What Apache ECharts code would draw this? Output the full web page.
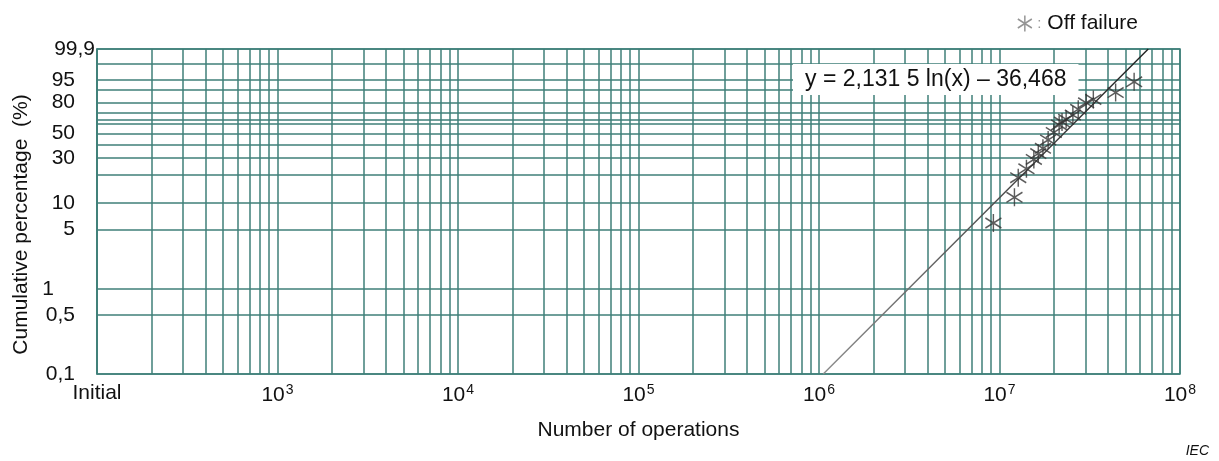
<!DOCTYPE html>
<html>
<head>
<meta charset="utf-8">
<script src="https://cdn.jsdelivr.net/npm/echarts@6/dist/echarts.min.js"></script>
<style>
html,body{margin:0;padding:0;background:#ffffff;}
#chart{width:1219px;height:461px;}
</style>
</head>
<body>
<div id="chart"></div>
<script>
// ---------------- data ----------------
const xDecadeExponents = [2, 3, 4, 5, 6, 7, 8];           // 10^2 ... 10^8
const xFirstLabel = 'Initial';
const xMinorMultipliers = [1, 2, 3, 4, 5, 6, 7, 8, 9];
const yGridPercents = [0.1, 0.5, 1, 5, 10, 20, 30, 40, 50, 60, 70, 80, 90, 95, 99, 99.9];
const yLabelPercents = [0.1, 0.5, 1, 5, 10, 30, 50, 80, 95, 99.9];

const operations = [9.25e6, 1.21e7, 1.27e7, 1.41e7, 1.55e7, 1.64e7, 1.74e7, 1.86e7, 2.0e7,
                    2.14e7, 2.22e7, 2.34e7, 2.55e7, 2.73e7, 3.02e7, 3.31e7, 4.40e7, 5.57e7];
const cumulativePercent = [5.9, 11.5, 18.8, 23.3, 29.0, 33.1, 37.1, 44.1, 51.0,
                           58.3, 61.2, 64.0, 68.2, 73.8, 79.8, 82.7, 87.9, 94.1];

const fitOperations = [1.056e6, 6.67e7];
const fitPercent = [0.1, 99.9];
const equationText = 'y = 2,131 5 ln(x) \u2013 36,468';
const seriesName = 'Off failure';

// ---------------- scale transforms (Weibull paper) ----------------
const weib = p => Math.log(-Math.log(1 - p / 100));
const lg = v => Math.log10(v);

const xGridValues = [];
xDecadeExponents.forEach(e => {
  if (e === xDecadeExponents[xDecadeExponents.length - 1]) { xGridValues.push(e); return; }
  xMinorMultipliers.forEach(m => xGridValues.push(lg(m * Math.pow(10, e))));
});
const yGridValues = yGridPercents.map(weib);
const yLabelValues = yLabelPercents.map(weib);

const scatterData = operations.map((o, i) => [lg(o), weib(cumulativePercent[i])]);
const fitData = fitOperations.map((o, i) => [lg(o), weib(fitPercent[i])]);

const GRID = '#3f7f79';
const FONT = 'Liberation Sans, Arial, sans-serif';
const FS = 21;
const STAR = 'path://M7,0L7,16M0,3.5L14,12.5M14,3.5L0,12.5';

const chart = echarts.init(document.getElementById('chart'), null, {renderer: 'canvas'});
chart.setOption({
  animation: false,
  backgroundColor: '#ffffff',
  textStyle: {fontFamily: FONT},
  grid: {left: 97, right: 39, top: 49, bottom: 87, show: true, borderColor: GRID, borderWidth: 1.5, backgroundColor: 'transparent'},
  legend: {
    right: 76, top: 8, itemWidth: 15, itemHeight: 16,
    itemStyle: {color: 'transparent', borderColor: '#7a7a7a', borderWidth: 1.5},
    formatter: n => '{c|:} ' + n,
    textStyle: {fontSize: FS, color: '#111', fontFamily: FONT, rich: {c: {fontSize: 15, color: '#999', fontFamily: FONT}}},
    data: [{name: seriesName, icon: STAR}]
  },
  xAxis: {
    type: 'value', min: xDecadeExponents[0], max: xDecadeExponents[xDecadeExponents.length - 1],
    name: 'Number of operations', nameLocation: 'middle', nameGap: 46,
    nameTextStyle: {fontSize: FS, color: '#111', fontFamily: FONT},
    axisLine: {show: true, lineStyle: {color: GRID, width: 1.5}},
    axisTick: {show: false, customValues: xGridValues},
    splitLine: {show: true, lineStyle: {color: GRID, width: 1.5}},
    axisLabel: {
      customValues: xDecadeExponents, margin: 9, color: '#111', fontSize: FS, fontFamily: FONT,
      formatter: v => v === xDecadeExponents[0] ? xFirstLabel : '{b|10}{s|' + v + '}',
      rich: {
        b: {fontSize: FS, color: '#111', fontFamily: FONT, verticalAlign: 'bottom'},
        s: {fontSize: 14, color: '#111', fontFamily: FONT, verticalAlign: 'bottom', padding: [0, 0, 9, 1]}
      }
    }
  },
  yAxis: {
    type: 'value', min: weib(yGridPercents[0]), max: weib(yGridPercents[yGridPercents.length - 1]),
    name: 'Cumulative percentage  (%)', nameLocation: 'middle', nameGap: 65,
    nameTextStyle: {fontSize: FS, color: '#111', fontFamily: FONT, padding: [0, 26, 0, 0]},
    axisLine: {show: true, lineStyle: {color: GRID, width: 1.5}},
    axisTick: {show: false, customValues: yGridValues},
    splitLine: {show: true, lineStyle: {color: GRID, width: 1.5}},
    axisLabel: {
      customValues: yLabelValues, margin: 22, color: '#111', fontSize: FS, fontFamily: FONT,
      formatter: v => {
        let best = 0;
        yLabelValues.forEach((w, i) => { if (Math.abs(w - v) < Math.abs(yLabelValues[best] - v)) best = i; });
        const p = yLabelPercents[best];
        const s = String(p).replace('.', ',');
        if (p === 99.9) return '{top|' + s + '}';
        if (p === 1) return '{one|' + s + '}';
        return s;
      },
      rich: {
        top: {fontSize: FS, color: '#111', fontFamily: FONT, padding: [0, -20, 0, 0]},
        one: {fontSize: FS, color: '#111', fontFamily: FONT, padding: [0, 21, 0, 0]}
      }
    }
  },
  series: [
    {
      name: 'fit', type: 'line', data: fitData, showSymbol: false, silent: true, z: 3,
      lineStyle: {width: 1.4, color: {type: 'linear', x: 0, y: 1, x2: 1, y2: 0,
        colorStops: [{offset: 0, color: '#8c8c8c'}, {offset: 0.45, color: '#555'}, {offset: 1, color: '#1e1e1e'}]}}
    },
    {
      name: seriesName, type: 'scatter', data: scatterData, symbol: STAR, symbolSize: [16, 18], z: 4,
      itemStyle: {color: 'transparent', borderColor: '#333333', borderWidth: 1.5}
    }
  ],
  graphic: [
    {type: 'text', left: 793, top: 64, z: 10,
     style: {text: equationText, font: '23px ' + FONT, fill: '#111', backgroundColor: '#ffffff', padding: [4, 12, 4, 12]}},
    {type: 'text', right: 10, top: 444,
     style: {text: 'IEC', font: 'italic 14px ' + FONT, fill: '#111'}}
  ]
});
</script>
</body>
</html>
